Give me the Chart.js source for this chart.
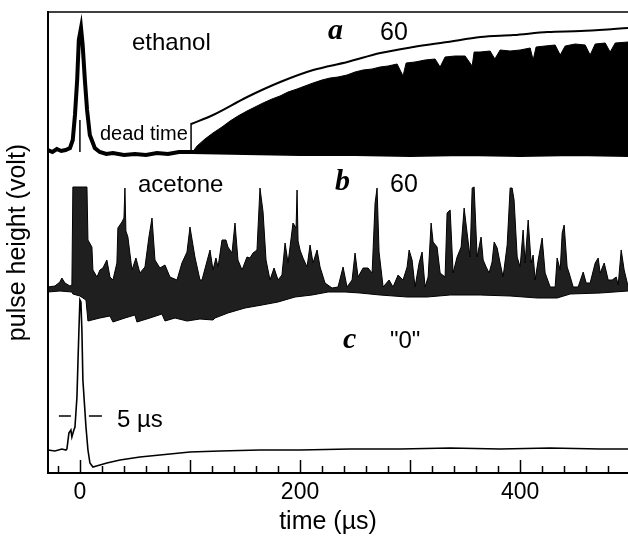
<!DOCTYPE html>
<html>
<head>
<meta charset="utf-8">
<script src="https://cdn.jsdelivr.net/npm/chart.js@4.4.1/dist/chart.umd.min.js"></script>
<style>
  html, body { margin: 0; padding: 0; background: #fff; }
  #wrap { width: 628px; height: 538px; }
</style>
</head>
<body>
<div id="wrap"><canvas id="chart" width="628" height="538"></canvas></div>
<script>
// time axis in µs, pulse height in arbitrary units (no y scale shown)
const xTickLabels = [0, 200, 400];

// a: ethanol, baseline + first pulse
const aT = [-29, -25, -21, -17, -13, -9, -6.5, -4.5, -2.5, -1, 1, 2.5, 4.5, 6.5, 9, 13.5, 18, 24, 30, 40, 50, 60, 70, 80, 90, 101, 150, 200, 250, 300, 350, 400, 450, 498];
const aV = [323, 321, 324, 322, 323, 325, 333, 358, 393, 433, 445, 428, 393, 363, 338, 325, 321, 319, 320, 318, 319, 318, 320, 319, 321, 321, 320, 319, 319, 318, 319, 318, 319, 318];
// a: top of the dense pulse train after dead time
const aTopT = [101.8, 106.4, 113.6, 120.9, 129.1, 136.4, 143.6, 151.8, 159.1, 166.4, 174.5, 181.8, 189.1, 197.3, 204.5, 211.8, 220, 227.3, 234.5, 242.7, 250, 257.3, 265.5, 272.7, 280, 288.2, 293.6, 296.4, 304.5, 313.6, 322.7, 327.3, 331.8, 340.9, 350, 356.4, 358.2, 363.6, 372.7, 377, 381.8, 390.9, 400, 409.1, 411.8, 414.5, 422.7, 431.8, 436.4, 440.9, 450, 459.1, 463.6, 468.2, 477.3, 481.8, 486.4, 498.2];
const aTopV = [320, 327, 334, 340, 346, 352, 357, 362, 366, 370, 374, 377, 381, 384, 387, 390, 393, 395, 396, 398, 401, 403, 404, 406, 407, 409, 397, 410, 411, 413, 414, 406, 416, 417, 417, 407, 421, 421, 422, 414, 423, 422, 423, 425, 413, 426, 427, 428, 418, 427, 429, 428, 418, 429, 430, 421, 430, 431];
// a: smooth envelope line
const aCurveT = [101, 121, 152, 182, 212, 243, 273, 303, 334, 364, 394, 425, 455, 485, 498];
const aCurveV = [349, 358, 376, 391, 403, 411, 420, 426, 431, 436, 438, 441, 442, 444, 445];
// dead time markers (0 and 101 µs)
const deadT = [0, 101];
const deadLo = [321, 323];
const deadHi = [353, 350];

// b: acetone, upper and lower edges of the pulse train
const bUpT = [-29.1, -22.7, -18.2, -16.4, -13.6, -9.1, -7.3, -6.4, 6.4, 7.3, 10.9, 11.8, 15.5, 18.2, 20.9, 24.5, 27.3, 30, 33.6, 34.5, 38.2, 40, 40.9, 41.8, 43.6, 47.3, 50.9, 54.5, 59.1, 62.7, 65.5, 68.2, 72.7, 77.3, 81.8, 88.2, 92.7, 97.3, 100, 104.5, 109.1, 110.9, 118.2, 120.9, 123.6, 125.5, 129.1, 132.7, 134.5, 138.2, 140.9, 143.6, 147.3, 151.8, 154.5, 157.3, 160.9, 163.6, 166.4, 169.1, 172.7, 176.4, 180, 183.6, 186.4, 189.1, 193.6, 196.4, 197.3, 198.2, 200, 202.7, 206.4, 209.1, 211.8, 215.5, 218.2, 222.7, 229.1, 234.5, 239.1, 242.7, 247.3, 250, 252.7, 257.3, 261.8, 265.5, 268.2, 270, 271.8, 275.5, 280.9, 284.5, 289.1, 293.6, 297.3, 299.1, 301.8, 304.5, 308.2, 310.9, 313.6, 316.4, 319.1, 320.9, 324.5, 327.3, 331.8, 333.6, 336.4, 339.1, 342.7, 346.4, 349.1, 351.8, 354.5, 356.4, 358.2, 360.9, 364.5, 366.4, 369.1, 371.8, 374.5, 376.4, 379.1, 381.8, 384.5, 388.2, 390.9, 392.7, 394.5, 397.3, 400, 402.7, 404.5, 407.3, 410, 411.8, 413.6, 416.4, 420, 422.7, 427.3, 431.8, 433.6, 436.4, 438.2, 440, 442.7, 444.5, 448.2, 452.7, 457.3, 460, 463.6, 468.2, 470.9, 472.7, 476.4, 480, 483.6, 487.3, 489.1, 491.8, 494.5, 498.2];
const bUpV = [186, 187, 191, 195, 190, 187, 188, 286, 286, 233, 226, 203, 196, 203, 205, 213, 196, 193, 210, 245, 251, 255, 285, 242, 236, 203, 215, 200, 206, 236, 255, 213, 205, 208, 196, 193, 210, 221, 246, 216, 193, 193, 223, 203, 215, 206, 233, 233, 226, 220, 250, 213, 203, 216, 215, 220, 223, 285, 261, 213, 193, 205, 193, 198, 230, 210, 250, 245, 283, 232, 223, 215, 206, 228, 210, 223, 206, 190, 185, 186, 206, 186, 193, 220, 196, 205, 205, 200, 270, 285, 221, 186, 193, 186, 198, 193, 206, 223, 213, 186, 210, 221, 186, 196, 250, 231, 226, 200, 196, 260, 263, 200, 216, 226, 265, 240, 216, 285, 286, 216, 236, 213, 206, 200, 211, 231, 225, 210, 196, 228, 285, 285, 273, 216, 206, 243, 210, 253, 210, 218, 193, 213, 235, 200, 186, 186, 215, 203, 240, 248, 206, 200, 186, 186, 201, 190, 190, 210, 215, 200, 210, 193, 193, 196, 188, 223, 203, 186];
const bLowT = [-29.1, -18.2, -7.3, -6.4, 0, 5.5, 7.3, 18.2, 27.3, 30, 40.9, 50, 51.8, 63.6, 74.5, 77.3, 86.4, 97.3, 109.1, 120.9, 122.7, 134.5, 150, 165.5, 180, 195.5, 210.9, 225.5, 240.9, 254.5, 272.7, 297.3, 315.5, 336.4, 363.6, 390.9, 415.5, 433.6, 445.5, 472.7, 498.2];
const bLowV = [181, 182, 181, 179, 177, 173, 152, 155, 157, 151, 155, 158, 151, 155, 159, 152, 155, 152, 154, 153, 155, 160, 165, 168, 171, 176, 178, 181, 181, 180, 178, 176, 176, 178, 178, 177, 175, 175, 179, 180, 182];

// c: control ("0")
const cT = [-29.1, -22.7, -16.4, -12.7, -11.8, -10, -8.2, -7.3, -5.5, -4.5, -2.7, -1.8, -0.9, 0, 0.9, 1.8, 2.7, 5.5, 7.3, 9.1, 11.8, 18.2, 24.5, 36.4, 54.5, 72.7, 100, 127.3, 163.6, 200, 245.5, 290.9, 336.4, 381.8, 427.3, 472.7, 498.2];
const cV = [23, 22, 24, 23, 24, 40, 43, 36, 43, 46, 76, 110, 143, 173, 171, 143, 93, 46, 23, 10, 6, 8, 10, 13, 16, 18, 21, 22, 23, 23, 24, 24, 25, 24, 25, 24, 24];
// 5 µs scale bar
const barLeftT = [-19.1, -8.2];
const barRightT = [8.2, 20];
const barV = 57;

const pts = (xs, ys) => xs.map((t, i) => ({ x: t, y: Array.isArray(ys) ? ys[i] : ys }));

const line = (data, width, extra) => Object.assign({
  data: data, borderColor: '#000', borderWidth: width, fill: false,
  pointRadius: 0, tension: 0
}, extra || {});

const datasets = [
  line(pts(aT, aV), 4),
  line(pts(aTopT, aTopV), 1, { fill: '-1', backgroundColor: '#000' }),
  line(pts(aCurveT, aCurveV), 2, { cubicInterpolationMode: 'monotone' }),
  line([{ x: deadT[0], y: deadLo[0] }, { x: deadT[0], y: deadHi[0] }], 1.5),
  line([{ x: deadT[1], y: deadLo[1] }, { x: deadT[1], y: deadHi[1] }], 1.5),
  line(pts(bLowT, bLowV), 1),
  line(pts(bUpT, bUpV), 1, { fill: '-1', backgroundColor: 'rgba(0,0,0,0.88)' }),
  line(pts(cT, cV), 1.6),
  line(pts(barLeftT, barV), 1.5),
  line(pts(barRightT, barV), 1.5)
];

const notes = [
  ['ethanol', 132, 50, '24px "Liberation Sans"'],
  ['dead time', 100, 140, '20px "Liberation Sans"'],
  ['a', 328, 39, 'bold italic 30px "Liberation Serif"'],
  ['60', 380, 40, '25px "Liberation Sans"'],
  ['acetone', 138, 192, '24px "Liberation Sans"'],
  ['b', 335, 190, 'bold italic 30px "Liberation Serif"'],
  ['60', 390, 192, '25px "Liberation Sans"'],
  ['c', 343, 348, 'bold italic 30px "Liberation Serif"'],
  ['"0"', 390, 348, '24px "Liberation Sans"'],
  ['5 \u00b5s', 117, 427, '24px "Liberation Sans"']
];

const annotate = {
  id: 'annotate',
  afterDatasetsDraw(chart) {
    const { ctx, chartArea: ca, scales: { x } } = chart;
    ctx.save();
    ctx.strokeStyle = '#000';
    // top frame
    ctx.lineWidth = 1.5;
    ctx.beginPath();
    ctx.moveTo(ca.left, ca.top);
    ctx.lineTo(ca.right, ca.top);
    ctx.stroke();
    // inward ticks, minor every 20 µs
    for (let v = -20; v <= 480; v += 20) {
      const px = Math.round(x.getPixelForValue(v)) + 0.5;
      const len = v % 100 === 0 ? 13 : 7;
      ctx.beginPath();
      ctx.moveTo(px, ca.bottom);
      ctx.lineTo(px, ca.bottom - len);
      ctx.stroke();
    }
    ctx.fillStyle = '#000';
    ctx.textAlign = 'left';
    ctx.textBaseline = 'alphabetic';
    notes.forEach(n => {
      ctx.font = n[3];
      ctx.fillText(n[0], n[1], n[2]);
    });
    // x title
    ctx.font = '25px "Liberation Sans"';
    ctx.textAlign = 'center';
    ctx.textBaseline = 'middle';
    ctx.fillText('time (\u00b5s)', 328, 522);
    ctx.restore();
  }
};

new Chart(document.getElementById('chart'), {
  type: 'line',
  data: { datasets: datasets },
  options: {
    responsive: false,
    animation: false,
    layout: { padding: { top: 12, right: 0, bottom: 0, left: 0 } },
    plugins: { legend: { display: false }, tooltip: { enabled: false } },
    scales: {
      x: {
        type: 'linear', min: -29, max: 498,
        grid: { display: false, drawTicks: false },
        border: { display: true, color: '#000', width: 2 },
        afterBuildTicks: s => { s.ticks = xTickLabels.map(v => ({ value: v })); },
        afterFit: s => { s.height = 65; },
        ticks: { color: '#000', padding: 6, font: { family: 'Liberation Sans', size: 23 } }
      },
      y: {
        min: 0, max: 461,
        grid: { display: false, drawTicks: false },
        border: { display: true, color: '#000', width: 2 },
        ticks: { display: false },
        afterFit: s => { s.width = 48; },
        title: {
          display: true, text: 'pulse height (volt)', color: '#000',
          font: { family: 'Liberation Sans', size: 25 }, padding: { top: 3, bottom: 0 }
        }
      }
    }
  },
  plugins: [annotate]
});
</script>
</body>
</html>
